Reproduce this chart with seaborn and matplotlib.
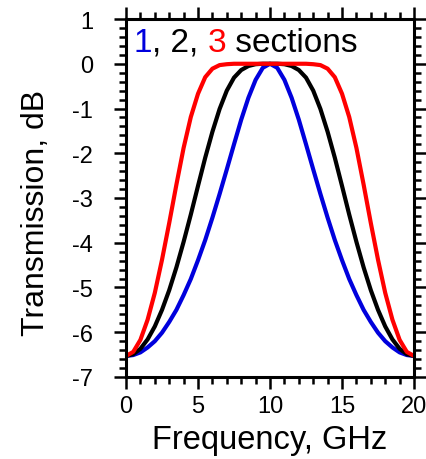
import numpy as np
import pandas as pd
import seaborn as sns
import matplotlib
matplotlib.use("Agg")
import matplotlib.pyplot as plt
from matplotlib.ticker import MultipleLocator

# frequency grid, GHz
freq = [0.0, 0.5, 1.0, 1.5, 2.0, 2.5, 3.0, 3.5, 4.0, 4.5,
        5.0, 5.5, 6.0, 6.5, 7.0, 7.5, 8.0, 8.5, 9.0, 9.5,
        10.0, 10.5, 11.0, 11.5, 12.0, 12.5, 13.0, 13.5, 14.0, 14.5,
        15.0, 15.5, 16.0, 16.5, 17.0, 17.5, 18.0, 18.5, 19.0, 19.5, 20.0]

# transmission in dB
one_section = [-6.53, -6.51, -6.45, -6.34, -6.20, -6.01, -5.77, -5.50, -5.17, -4.81,
               -4.39, -3.94, -3.44, -2.91, -2.36, -1.80, -1.25, -0.76, -0.36, -0.09,
               0.00, -0.09, -0.36, -0.76, -1.25, -1.80, -2.36, -2.91, -3.44, -3.94,
               -4.39, -4.81, -5.17, -5.50, -5.77, -6.01, -6.20, -6.34, -6.45, -6.51, -6.53]
two_sections = [-6.53, -6.49, -6.37, -6.16, -5.87, -5.50, -5.06, -4.55, -3.98, -3.37,
                -2.73, -2.10, -1.52, -1.01, -0.60, -0.31, -0.14, -0.05, -0.01, 0.00,
                0.00, 0.00, -0.01, -0.05, -0.14, -0.31, -0.60, -1.01, -1.52, -2.10,
                -2.73, -3.37, -3.98, -4.55, -5.06, -5.50, -5.87, -6.16, -6.37, -6.49, -6.53]
three_sections = [-6.53, -6.44, -6.17, -5.72, -5.12, -4.38, -3.56, -2.70, -1.88, -1.19,
                  -0.67, -0.30, -0.11, -0.03, -0.01, 0.00, 0.00, 0.00, 0.00, 0.00,
                  0.00, 0.00, 0.00, 0.00, 0.00, 0.00, -0.01, -0.03, -0.11, -0.30,
                  -0.67, -1.19, -1.88, -2.70, -3.56, -4.38, -5.12, -5.72, -6.17, -6.44, -6.53]

section_names = ["1", "2", "3"]
colors = {"1": "#0000dd", "2": "black", "3": "red"}

df = pd.concat([
    pd.DataFrame({"freq": freq, "dB": one_section, "sections": "1"}),
    pd.DataFrame({"freq": freq, "dB": two_sections, "sections": "2"}),
    pd.DataFrame({"freq": freq, "dB": three_sections, "sections": "3"}),
])

sns.set_style("ticks")
plt.rcParams["font.family"] = ["Liberation Sans", "DejaVu Sans"]
plt.rcParams["axes.unicode_minus"] = False
for key in ["text.color", "axes.labelcolor", "xtick.color", "ytick.color", "axes.edgecolor"]:
    plt.rcParams[key] = "black"

fig = plt.figure(figsize=(4.27, 4.6), dpi=100)
ax = fig.add_axes([0.2951, 0.1783, 0.6745, 0.7782])

sns.lineplot(data=df, x="freq", y="dB", hue="sections", hue_order=section_names,
             palette=colors, linewidth=3, legend=False, sort=False, ax=ax)

ax.set_xlim(0, 20)
ax.set_ylim(-7, 1)
ax.set_xticks([0, 5, 10, 15, 20])
ax.set_yticks(range(-7, 2))
ax.xaxis.set_minor_locator(MultipleLocator(1))
ax.yaxis.set_minor_locator(MultipleLocator(0.2))

for sp in ax.spines.values():
    sp.set_linewidth(2.2)
    sp.set_color("black")
ax.tick_params(which="both", direction="out", top=True, right=True,
               labeltop=False, labelright=False, color="black", width=1.8)
ax.tick_params(which="major", length=8.6, labelsize=17, labelcolor="black")
ax.tick_params(which="minor", length=4.7)
ax.tick_params(axis="x", which="major", pad=4.5)
ax.tick_params(axis="y", which="major", pad=15)

ax.set_xlabel("Frequency, GHz", fontsize=23.5, color="black")
ax.set_ylabel("Transmission, dB", fontsize=23, color="black")
ax.xaxis.set_label_coords(0.5, -0.13)
ax.yaxis.set_label_coords(-0.259, 0.46)

# coloured "1, 2, 3 sections" label
pieces = [("1", colors["1"]), (", 2, ", "black"), ("3", colors["3"]), (" sections", "black")]
prev = ax.text(0.5, 0.29, pieces[0][0], color=pieces[0][1], fontsize=24, va="baseline")
for txt, col in pieces[1:]:
    prev = ax.annotate(txt, xy=(1, 0), xycoords=prev, va="bottom", color=col, fontsize=24)

fig.savefig("out.png", dpi=100)
